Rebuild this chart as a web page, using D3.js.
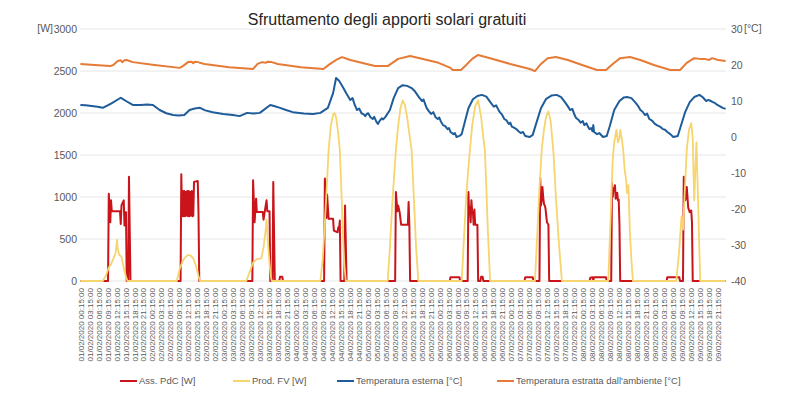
<!DOCTYPE html>
<html>
<head>
<meta charset="utf-8">
<script src="https://cdn.jsdelivr.net/npm/d3@7"></script>
<style>
body { margin: 0; background: #fff; }
svg text { font-family: "Liberation Sans", Arial, sans-serif; }
</style>
</head>
<body>
<div id="chart"></div>
<script>
// each point: [hours since 01/02/2020 00:00, value]
var assPdc = [
  [0.25,0],
  [9.5,0],[9.75,1040],[10.25,700],[10.5,960],[10.75,830],[13.5,830],[13.75,680],[14.0,900],[14.25,920],[14.75,960],[15.0,660],[15.5,820],[15.75,0],[16.25,0],[16.5,1240],[17.0,0],
  [33.75,0],[34.0,1270],[34.25,770],[34.5,1070],[34.75,770],[35.0,1070],[35.25,770],[35.5,1060],[35.75,780],[36.0,1070],[36.25,770],[36.5,1070],[36.75,770],[37.0,1060],[37.25,780],[37.5,1070],[37.75,770],[38.0,780],[38.25,1180],[39.5,1190],[39.75,800],[40.0,0],
  [57.75,0],[58.0,1200],[58.5,700],[59.0,980],[59.25,820],[61.25,820],[61.5,730],[62.0,850],[62.5,960],[62.75,830],[63.5,830],[63.75,0],[64.5,0],[64.75,1180],[65.25,0],[66.75,0],[67.0,50],[67.75,50],[68.0,0],
  [81.75,0],[82.0,1220],[82.5,750],[82.75,1030],[83.25,740],[84.75,740],[85.0,600],[86.25,580],[86.5,640],[86.75,620],[87.0,720],[87.25,0],[88.5,0],[88.75,900],[89.25,0],
  [105.5,0],[105.75,1060],[106.25,830],[106.5,900],[107.0,820],[107.5,670],[109.75,670],[110.0,940],[110.25,670],[110.5,0],
  [123.75,0],[124.0,45],[127.0,45],[127.25,0],
  [129.75,0],[130.0,1060],[130.25,800],[130.5,880],[130.75,700],[131.0,960],[131.25,830],[131.5,820],[131.75,670],[132.0,850],[132.25,670],[133.0,670],[133.25,0],
  [134.0,0],[134.25,50],[134.75,50],[135.0,0],
  [148.75,0],[149.0,45],[151.5,45],[151.75,0],
  [153.75,0],[154.0,1230],[154.25,900],[154.5,960],[154.75,1120],[155.0,1000],[155.25,920],[155.5,900],[155.75,870],[156.25,700],[156.75,670],[157.0,0],
  [170.5,0],[170.75,40],[171.5,45],[171.75,10],[172.0,45],[176.0,45],[176.25,0],
  [177.75,0],[178.0,1170],[178.25,1000],[178.5,1100],[178.75,1080],[179.0,1140],[179.25,980],[179.5,1000],[179.75,1050],[180.0,960],[180.25,970],[180.5,670],[180.75,0],
  [196.25,0],[196.5,45],[200.5,45],[200.75,0],
  [201.75,0],[202.0,1240],[202.5,960],[202.75,1000],[203.0,1120],[203.5,870],[204.0,820],[204.5,840],[204.75,700],[205.0,0],
  [216.0,0]
];

var prodFv = [
  [0.25,0],
  [7.75,0],[8.75,60],[9.75,160],[10.5,200],[11.25,260],[12.0,330],[12.5,490],[12.75,380],[13.25,310],[14.0,290],[14.5,200],[15.0,120],[15.5,50],[16.0,0],
  [32.5,0],[33.5,150],[34.5,240],[35.5,290],[36.25,310],[37.25,300],[38.0,270],[39.0,170],[39.75,60],[40.25,0],
  [55.75,0],[57.0,120],[58.0,220],[59.25,260],[60.75,270],[61.5,400],[62.25,620],[62.5,730],[63.0,450],[63.5,200],[64.0,40],[64.25,0],
  [80.5,0],[81.25,250],[82.0,700],[82.75,1200],[83.25,1560],[84.0,1850],[84.75,1980],[85.25,2000],[85.75,1950],[86.5,1750],[87.0,1560],[87.5,1100],[88.0,600],[88.5,200],[89.0,0],
  [103.0,0],[103.75,400],[104.5,900],[105.25,1300],[105.75,1560],[106.5,1850],[107.25,2050],[108.0,2150],[108.75,2100],[109.5,1950],[110.25,1750],[111.0,1560],[111.75,1000],[112.5,400],[113.25,0],
  [127.75,0],[128.5,500],[129.25,1000],[130.0,1350],[130.5,1560],[131.25,1850],[132.25,2080],[133.25,2150],[134.25,1950],[135.0,1700],[135.5,1560],[136.0,1100],[136.5,600],[137.25,0],
  [152.25,0],[153.0,550],[153.75,1100],[154.5,1560],[155.25,1800],[156.0,1960],[156.75,2020],[157.5,1900],[158.25,1600],[158.5,1500],[159.25,1000],[160.25,450],[161.25,0],
  [176.75,0],[177.5,700],[178.25,1450],[178.75,1650],[179.25,1750],[179.5,1800],[180.0,1650],[180.5,1700],[180.75,1800],[181.25,1700],[181.75,1560],[182.25,1320],[182.75,1200],[183.0,1050],[183.5,1140],[184.0,570],[184.5,250],[185.0,0],
  [199.5,0],[200.5,370],[201.25,770],[201.75,610],[202.25,1000],[203.0,1560],[203.75,1800],[204.5,1880],[205.0,1700],[205.25,1300],[205.5,960],[206.0,1450],[206.25,1650],[206.75,1000],[207.5,0],
  [216.0,0]
];

var tempEsterna = [
  [0.25,8.9],[2.0,8.8],[4.0,8.6],[6.0,8.4],[7.75,8.1],[10.5,9.3],[13.75,10.9],[14.5,10.5],[15.5,10.0],[17.75,8.9],[20.5,8.9],[22.5,9.0],[24.5,8.9],
  [26.75,7.5],[29.0,6.6],[31.25,6.1],[33.0,6.0],[35.0,6.1],[36.75,7.5],[38.5,7.9],[40.25,8.1],[42.0,7.4],[44.5,6.9],[48.0,6.4],[51.25,6.1],
  [53.5,5.8],[56.0,6.7],[58.0,6.5],[60.25,6.7],[63.75,8.9],[65.0,8.6],[67.0,8.1],[69.0,7.5],[71.25,6.9],[75.0,6.5],[78.0,6.4],[80.5,6.7],[83.0,8.1],
  [84.75,12.2],[85.75,16.4],[86.75,15.6],[88.0,13.9],[89.25,12.0],[90.5,10.3],[91.25,10.8],[92.0,8.9],[92.75,7.5],[93.5,7.9],[94.25,6.6],[95.0,6.3],
  [95.5,5.8],[96.0,6.4],[96.5,6.6],[97.25,5.5],[98.0,5.0],[98.5,5.6],[99.25,4.2],[99.75,3.6],[100.25,4.4],[101.0,5.2],[101.5,4.9],[102.25,5.6],
  [103.75,7.5],[105.0,10.8],[106.5,13.6],[108.0,14.4],[109.5,14.2],[111.0,13.6],[112.0,12.8],[112.75,11.9],[113.5,11.0],[114.5,10.0],[115.0,10.4],
  [116.0,8.1],[116.75,7.2],[117.5,6.4],[118.25,6.9],[119.0,5.5],[119.75,5.0],[120.25,5.4],[120.75,4.4],[121.5,3.3],[122.25,3.0],[123.0,2.2],
  [123.5,2.5],[124.0,1.4],[125.0,0.8],[125.5,1.1],[126.0,0.0],[127.0,0.3],[127.75,0.8],[128.75,4.0],[130.0,8.0],[131.5,10.5],[133.0,11.4],
  [134.5,11.7],[136.0,11.2],[137.5,9.5],[138.5,8.4],[139.25,8.8],[140.0,7.6],[140.5,6.9],[141.25,6.2],[142.0,5.0],[142.75,4.6],[143.5,3.6],
  [144.0,4.0],[144.5,2.9],[145.25,2.6],[146.0,2.2],[146.75,1.6],[147.5,1.1],[148.25,1.4],[149.0,0.3],[150.5,0.0],[151.5,0.6],[152.75,4.0],
  [154.25,8.0],[156.0,10.6],[157.75,11.5],[159.5,11.7],[161.0,11.1],[162.5,9.4],[163.25,8.5],[164.0,7.5],[164.75,7.8],[165.5,6.1],[166.0,5.3],
  [166.75,4.8],[167.5,4.0],[168.25,4.4],[168.75,3.3],[169.5,3.8],[170.0,2.8],[170.5,2.2],[171.0,2.5],[171.5,1.6],[171.75,3.3],[172.0,1.4],
  [173.0,0.8],[173.75,1.1],[175.0,0.0],[176.25,0.3],[177.25,3.0],[178.75,7.5],[180.5,10.0],[182.0,11.0],[183.0,11.1],[184.5,10.8],[186.0,9.4],
  [186.75,8.6],[187.5,7.5],[188.25,7.0],[189.0,6.1],[189.75,6.5],[190.5,5.0],[191.5,4.5],[192.25,3.7],[193.0,3.3],[194.0,2.9],[195.0,2.2],
  [195.75,2.0],[196.5,1.4],[197.5,0.8],[198.5,0.0],[200.0,0.3],[201.0,3.0],[202.5,7.0],[204.0,9.7],[205.5,11.1],[207.25,11.7],[208.25,11.1],
  [209.5,10.0],[210.25,10.3],[211.0,10.0],[211.75,9.7],[212.5,9.4],[213.25,8.9],[214.0,8.6],[215.0,8.1],[216.0,7.8]
];

var tempAmbiente = [
  [0.25,20.3],[5.0,20.0],[10.25,19.7],[11.25,20.0],[12.75,21.1],[13.75,21.3],[14.25,20.8],[15.0,21.3],[15.75,21.4],[17.75,20.8],[25.0,20.0],
  [33.5,19.2],[34.5,19.7],[36.25,20.8],[37.5,20.9],[38.0,20.5],[38.5,20.9],[39.5,20.8],[41.75,20.3],[50.0,19.4],[58.0,18.9],[59.5,20.3],
  [61.0,20.8],[62.25,20.6],[62.75,20.9],[64.25,20.8],[66.25,20.3],[74.0,19.4],[81.5,18.9],[83.75,20.3],[85.75,21.4],[87.75,22.2],[90.5,21.4],
  [98.75,19.7],[103.0,19.7],[106.5,21.7],[110.5,22.5],[113.75,21.9],[120.0,20.6],[124.0,19.2],[124.75,18.6],[127.5,18.6],[129.25,20.0],
  [131.25,21.7],[133.25,22.8],[137.25,21.9],[144.0,20.3],[150.5,18.9],[152.25,18.3],[154.25,20.3],[156.5,21.9],[159.25,22.2],[163.25,21.4],
  [168.0,20.0],[173.0,18.6],[176.0,18.6],[178.25,20.3],[180.75,21.9],[184.0,22.2],[187.5,21.4],[192.0,20.0],[197.5,18.6],[200.75,18.6],
  [203.0,20.6],[205.5,21.9],[207.5,21.7],[209.0,21.7],[210.5,21.4],[211.5,21.9],[213.5,21.4],[216.0,21.1]
];

var wTicks = [0, 500, 1000, 1500, 2000, 2500, 3000];
var cTicks = [-40, -30, -20, -10, 0, 10, 20, 30];
var seriesNames = ["Ass. PdC [W]", "Prod. FV [W]", "Temperatura esterna [°C]", "Temperatura estratta dall'ambiente [°C]"];
var seriesColors = ["#c8141a", "#f6d46e", "#1f5c9a", "#e57b36"];
var titleText = "Sfruttamento degli apporti solari gratuiti";

var margin = {top: 29, right: 65, bottom: 118, left: 80},
    width = 791 - margin.left - margin.right,
    height = 399 - margin.top - margin.bottom;

var svg = d3.select("#chart")
  .append("svg")
  .attr("width", 791)
  .attr("height", 399);

var g = svg.append("g")
  .attr("transform", "translate(" + margin.left + "," + margin.top + ")");

// X: 864 quarter-hour categories, one every 15 minutes from 00:15
var x = d3.scaleLinear()
  .domain([0.125, 216.125])
  .range([0, width]);

var yW = d3.scaleLinear().domain([0, 3000]).range([height, 0]);
var yC = d3.scaleLinear().domain([-40, 30]).range([height, 0]);

// gridlines
g.append("g")
  .selectAll("line")
  .data(wTicks)
  .enter()
  .append("line")
    .attr("x1", 0)
    .attr("x2", width)
    .attr("y1", function (d) { return yW(d); })
    .attr("y2", function (d) { return yW(d); })
    .attr("stroke", "#e6e6e6")
    .attr("stroke-width", 1);

// left axis
var leftAxis = g.append("g")
  .call(d3.axisLeft(yW).tickValues(wTicks).tickSize(0).tickPadding(3).tickFormat(function (d) { return String(d); }));
leftAxis.select(".domain").remove();
leftAxis.selectAll("text").attr("fill", "#595959").style("font-size", "10.5px");

// right axis
var rightAxis = g.append("g")
  .attr("transform", "translate(" + width + ",0)")
  .call(d3.axisRight(yC).tickValues(cTicks).tickSize(0).tickPadding(5).tickFormat(function (d) { return String(d); }));
rightAxis.select(".domain").remove();
rightAxis.selectAll("text").attr("fill", "#595959").style("font-size", "10.5px");

// units
g.append("text")
  .attr("x", -27).attr("y", 0).attr("dy", "0.32em")
  .attr("text-anchor", "end")
  .attr("fill", "#595959")
  .style("font-size", "10.5px")
  .text("[W]");
g.append("text")
  .attr("x", width + 18).attr("y", 0).attr("dy", "0.32em")
  .attr("fill", "#595959")
  .style("font-size", "10.5px")
  .text("[°C]");

// bottom axis, label every 3 hours
var start = new Date(2020, 1, 1);
var fmt = d3.timeFormat("%d/%m/%Y %H:%M:%S");
var bottomAxis = g.append("g")
  .attr("transform", "translate(0," + height + ")")
  .call(d3.axisBottom(x)
    .tickValues(d3.range(0.25, 216, 3))
    .tickSize(0)
    .tickFormat(function (t) { return fmt(new Date(+start + t * 3600000)); }));
bottomAxis.select(".domain").remove();
bottomAxis.selectAll("text")
  .attr("transform", "rotate(-90)")
  .attr("x", -7)
  .attr("y", 0)
  .attr("dy", "0.35em")
  .attr("text-anchor", "end")
  .attr("fill", "#595959")
  .style("font-size", "8px");

// lines
var lineW = d3.line().x(function (d) { return x(d[0]); }).y(function (d) { return yW(d[1]); });
var lineC = d3.line().x(function (d) { return x(d[0]); }).y(function (d) { return yC(d[1]); });

var series = [
  {data: assPdc, line: lineW, w: 2},
  {data: prodFv, line: lineW, w: 1.8},
  {data: tempEsterna, line: lineC, w: 2},
  {data: tempAmbiente, line: lineC, w: 2}
];

series.forEach(function (s, i) {
  g.append("path")
    .datum(s.data)
    .attr("fill", "none")
    .attr("stroke", seriesColors[i])
    .attr("stroke-width", s.w)
    .attr("stroke-linejoin", "round")
    .attr("d", s.line);
});

// title
svg.append("text")
  .attr("x", 387)
  .attr("y", 25)
  .attr("text-anchor", "middle")
  .attr("fill", "#262626")
  .style("font-size", "16px")
  .text(titleText);

// legend
var legendX = [120, 233, 337, 497];
var legend = svg.append("g").attr("transform", "translate(0,381)");
seriesNames.forEach(function (name, i) {
  legend.append("line")
    .attr("x1", legendX[i]).attr("x2", legendX[i] + 17)
    .attr("y1", 0).attr("y2", 0)
    .attr("stroke", seriesColors[i])
    .attr("stroke-width", 2);
  legend.append("text")
    .attr("x", legendX[i] + 19)
    .attr("y", 0)
    .attr("dy", "0.35em")
    .attr("fill", "#595959")
    .style("font-size", "9.5px")
    .text(name);
});
</script>
</body>
</html>
